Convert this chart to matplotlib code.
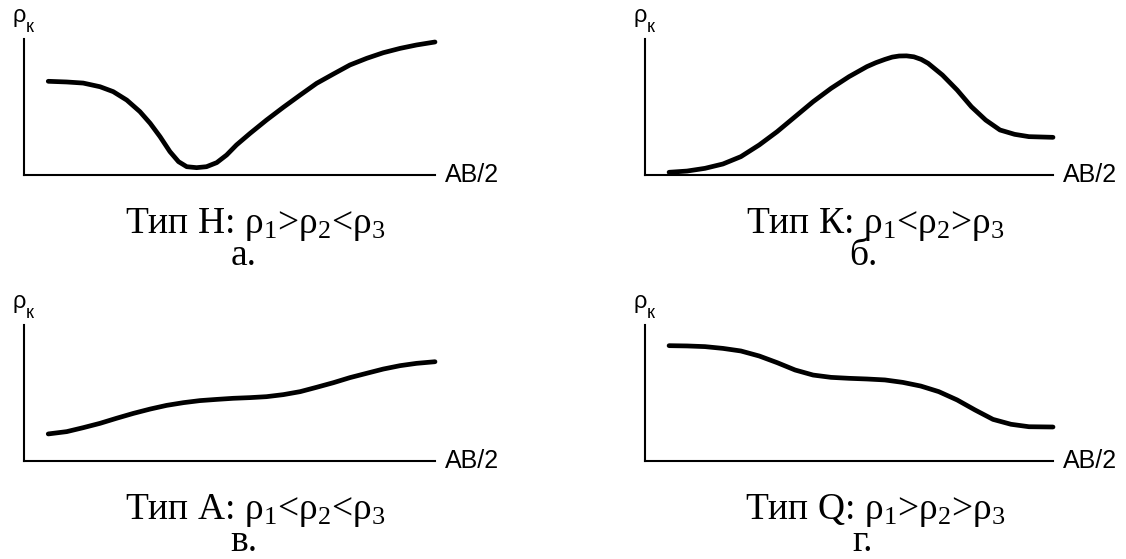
import matplotlib
matplotlib.use("Agg")
import matplotlib.pyplot as plt

plt.rcParams['font.family'] = ['Liberation Sans', 'DejaVu Sans']
plt.rcParams['mathtext.fontset'] = 'custom'
plt.rcParams['mathtext.rm'] = 'Liberation Serif'
plt.rcParams['mathtext.it'] = 'Liberation Serif'

# кривые ВЭЗ, AB/2 и ρк в условных единицах (0..100)
h_x = [5.9, 10.4, 14.4, 18.5, 21.7, 25.0, 28.2, 30.7, 33.1, 35.5, 37.6, 39.6, 42.0,
       44.4, 46.9, 49.3, 51.7, 55.0, 59.0, 63.1, 67.2, 71.2, 75.3, 79.3, 83.4,
       87.4, 91.5, 95.5, 100.0]
h_rho = [68.9, 68.4, 67.6, 64.9, 61.3, 55.1, 46.6, 38.0, 28.2, 17.2, 9.8, 6.1, 5.4,
         6.1, 9.1, 14.7, 22.1, 30.6, 40.4, 49.8, 58.8, 67.4, 74.3, 80.9, 85.8,
         89.9, 93.1, 95.6, 97.8]

k_x = [5.9, 10.3, 14.7, 19.1, 23.5, 28.0, 32.4, 36.8, 41.2, 45.6, 50.0, 54.4, 56.6,
       58.8, 60.6, 62.3, 64.1, 65.9, 67.7, 69.4, 72.9, 76.5, 80.0, 83.5, 87.0,
       90.6, 94.1, 100.0]
k_rho = [2.0, 2.9, 4.9, 8.1, 13.5, 22.1, 31.9, 42.9, 53.9, 63.7, 72.3, 79.7, 82.6,
         85.0, 86.7, 87.5, 87.6, 86.9, 85.0, 82.1, 73.5, 62.5, 50.2, 40.4, 33.1,
         29.9, 28.2, 27.7]

a_x = [5.9, 10.4, 14.4, 18.5, 22.5, 26.6, 30.7, 34.7, 38.8, 42.8, 46.9, 50.9, 55.0,
       59.0, 63.1, 67.2, 71.2, 75.3, 79.3, 83.4, 87.4, 91.5, 95.5, 100.0]
a_rho = [19.9, 21.6, 24.5, 27.7, 31.4, 35.0, 38.2, 40.9, 42.9, 44.4, 45.3, 46.1, 46.6,
         47.3, 48.8, 51.0, 54.2, 57.6, 61.3, 64.5, 67.6, 70.1, 71.8, 73.0]

q_x = [5.9, 10.3, 14.7, 19.1, 23.5, 28.0, 32.4, 36.8, 41.2, 45.6, 50.0, 54.4, 58.8,
       63.2, 67.6, 72.0, 76.5, 80.9, 85.3, 89.7, 94.1, 100.0]
q_rho = [84.8, 84.6, 84.1, 82.8, 80.9, 77.2, 72.3, 66.9, 63.2, 61.5, 60.8, 60.3, 59.6,
         57.8, 55.1, 51.0, 44.9, 37.5, 30.6, 27.0, 25.2, 25.0]

captions = ['Тип Н: ρ$_1$>ρ$_2$<ρ$_3$', 'Тип К: ρ$_1$<ρ$_2$>ρ$_3$',
            'Тип А: ρ$_1$<ρ$_2$<ρ$_3$', 'Тип Q: ρ$_1$>ρ$_2$>ρ$_3$']
letters = ['а.', 'б.', 'в.', 'г.']

W, H = 1126, 559
fig = plt.figure(figsize=(W / 100, H / 100), dpi=100)

# рамки графиков в пикселях: левый край, правый, верх, низ
boxes = [(24, 435, 39, 175), (645, 1053, 39, 175),
         (24, 435, 325, 461), (645, 1053, 325, 461)]
curves = [(h_x, h_rho), (k_x, k_rho), (a_x, a_rho), (q_x, q_rho)]

for (l, r, t, b), (xs, ys), cap, let in zip(boxes, curves, captions, letters):
    ax = fig.add_axes([l / W, 1 - b / H, (r - l) / W, (b - t) / H])
    ax.plot(xs, ys, color='black', lw=3.4, solid_capstyle='round',
            solid_joinstyle='round', clip_on=False)
    ax.set_xlim(0, 100)
    ax.set_ylim(0, 100)
    for s in ['top', 'right']:
        ax.spines[s].set_visible(False)
    for s in ['left', 'bottom']:
        ax.spines[s].set_linewidth(1.5)
        ax.spines[s].set_color('black')
    ax.set_xticks([])
    ax.set_yticks([])
    ax.patch.set_visible(False)

    px = 72 / 100  # пиксели -> пункты
    ax.annotate('ρ', xy=(0, 1), xycoords='axes fraction', xytext=(-5 * px, 17 * px),
                textcoords='offset points', ha='center', va='baseline', fontsize=17)
    ax.annotate('к', xy=(0, 1), xycoords='axes fraction', xytext=(2 * px, 7 * px),
                textcoords='offset points', ha='left', va='baseline', fontsize=13)
    ax.annotate('AB/2', xy=(1, 0), xycoords='axes fraction', xytext=(10 * px, 0),
                textcoords='offset points', ha='left', va='center', fontsize=18)

    cx = (l + r) / 2
    fig.text((cx + 26) / W, 1 - (b + 58) / H, cap, ha='center', va='baseline',
             fontsize=27, family='Liberation Serif')
    fig.text((cx + 14) / W, 1 - (b + 90) / H, let, ha='center', va='baseline',
             fontsize=27, family='Liberation Serif')

fig.savefig('out.png', dpi=100, facecolor='white')
